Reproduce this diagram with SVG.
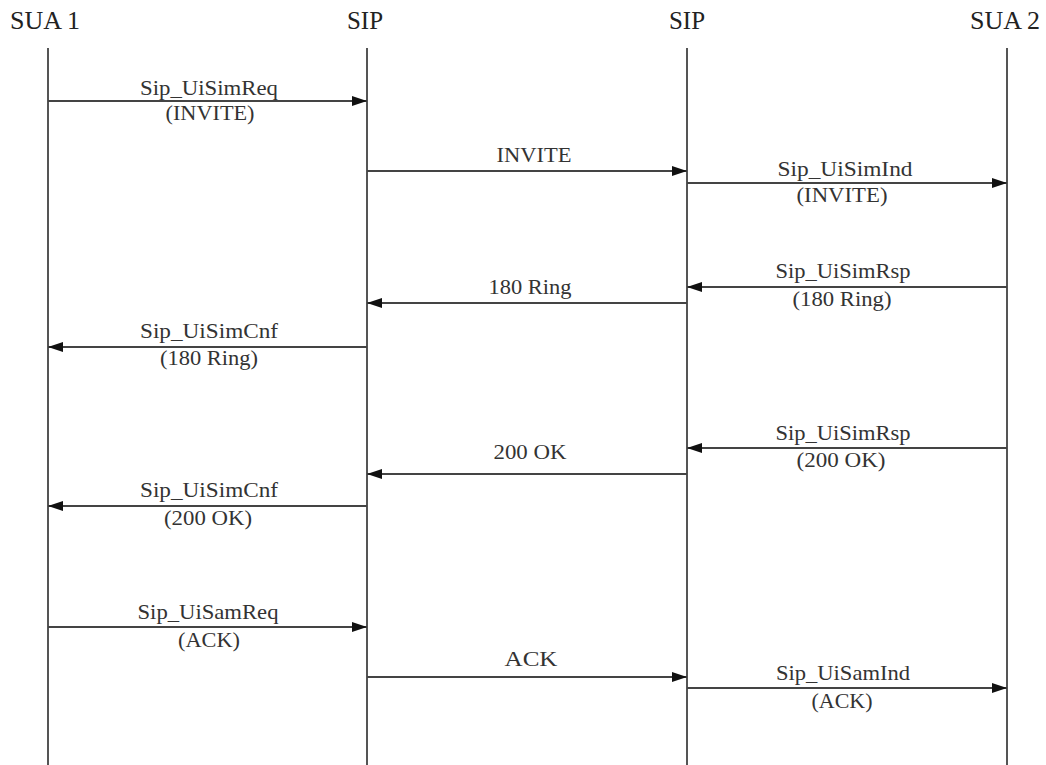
<svg xmlns="http://www.w3.org/2000/svg" width="1046" height="765" viewBox="0 0 1046 765">
<style>
.hd{font-family:"Liberation Serif","Times New Roman",serif;font-size:25px;fill:#222;text-anchor:middle}
.lb{font-family:"Liberation Serif","Times New Roman",serif;font-size:22px;fill:#333;text-anchor:middle}
.life{stroke:#555;stroke-width:2;fill:none}
.msg{stroke:#444;stroke-width:1.8;fill:none;marker-end:url(#ah)}
</style>
<defs>
<marker id="ah" viewBox="0 0 15 10" refX="15" refY="5" markerWidth="15" markerHeight="10" markerUnits="userSpaceOnUse" orient="auto">
<path d="M0,0 L15,5 L0,10 Z" fill="#111"/>
</marker>
</defs>
<rect width="1046" height="765" fill="#fff"/>
<g id="sua1"><text class="hd" x="45" y="29" textLength="70" lengthAdjust="spacingAndGlyphs">SUA 1</text><line class="life" x1="48" y1="48" x2="48" y2="765"/></g>
<g id="sip1"><text class="hd" x="365" y="29" textLength="36" lengthAdjust="spacingAndGlyphs">SIP</text><line class="life" x1="367" y1="48" x2="367" y2="765"/></g>
<g id="sip2"><text class="hd" x="687" y="29" textLength="36" lengthAdjust="spacingAndGlyphs">SIP</text><line class="life" x1="687" y1="48" x2="687" y2="765"/></g>
<g id="sua2"><text class="hd" x="1005" y="29" textLength="70" lengthAdjust="spacingAndGlyphs">SUA 2</text><line class="life" x1="1007" y1="48" x2="1007" y2="765"/></g>
<g id="connectors">
<line class="msg" x1="48" y1="101" x2="367" y2="101"/>
<text class="lb" x="209" y="95" textLength="138" lengthAdjust="spacingAndGlyphs">Sip_UiSimReq</text>
<text class="lb" x="210" y="120" textLength="89" lengthAdjust="spacingAndGlyphs">(INVITE)</text>

<line class="msg" x1="367" y1="171" x2="687" y2="171"/>
<text class="lb" x="534" y="162" textLength="75" lengthAdjust="spacingAndGlyphs">INVITE</text>

<line class="msg" x1="687" y1="183" x2="1007" y2="183"/>
<text class="lb" x="845" y="176" textLength="135" lengthAdjust="spacingAndGlyphs">Sip_UiSimInd</text>
<text class="lb" x="842" y="202" textLength="91" lengthAdjust="spacingAndGlyphs">(INVITE)</text>

<line class="msg" x1="1007" y1="287" x2="687" y2="287"/>
<text class="lb" x="843" y="278" textLength="135" lengthAdjust="spacingAndGlyphs">Sip_UiSimRsp</text>
<text class="lb" x="842" y="306" textLength="99" lengthAdjust="spacingAndGlyphs">(180 Ring)</text>

<line class="msg" x1="687" y1="303" x2="367" y2="303"/>
<text class="lb" x="530" y="294" textLength="83" lengthAdjust="spacingAndGlyphs">180 Ring</text>

<line class="msg" x1="367" y1="347" x2="48" y2="347"/>
<text class="lb" x="209" y="338" textLength="138" lengthAdjust="spacingAndGlyphs">Sip_UiSimCnf</text>
<text class="lb" x="209" y="365" textLength="98" lengthAdjust="spacingAndGlyphs">(180 Ring)</text>

<line class="msg" x1="1007" y1="448" x2="687" y2="448"/>
<text class="lb" x="843" y="440" textLength="135" lengthAdjust="spacingAndGlyphs">Sip_UiSimRsp</text>
<text class="lb" x="841" y="467" textLength="89" lengthAdjust="spacingAndGlyphs">(200 OK)</text>

<line class="msg" x1="687" y1="474" x2="367" y2="474"/>
<text class="lb" x="530" y="459" textLength="73" lengthAdjust="spacingAndGlyphs">200 OK</text>

<line class="msg" x1="367" y1="506" x2="48" y2="506"/>
<text class="lb" x="209" y="497" textLength="138" lengthAdjust="spacingAndGlyphs">Sip_UiSimCnf</text>
<text class="lb" x="208" y="525" textLength="88" lengthAdjust="spacingAndGlyphs">(200 OK)</text>

<line class="msg" x1="48" y1="627" x2="367" y2="627"/>
<text class="lb" x="208" y="619" textLength="141" lengthAdjust="spacingAndGlyphs">Sip_UiSamReq</text>
<text class="lb" x="209" y="647" textLength="62" lengthAdjust="spacingAndGlyphs">(ACK)</text>

<line class="msg" x1="367" y1="677" x2="687" y2="677"/>
<text class="lb" x="531" y="666" textLength="53" lengthAdjust="spacingAndGlyphs">ACK</text>

<line class="msg" x1="687" y1="688" x2="1007" y2="688"/>
<text class="lb" x="843" y="680" textLength="134" lengthAdjust="spacingAndGlyphs">Sip_UiSamInd</text>
<text class="lb" x="842" y="708" textLength="61" lengthAdjust="spacingAndGlyphs">(ACK)</text>
</g>
</svg>
